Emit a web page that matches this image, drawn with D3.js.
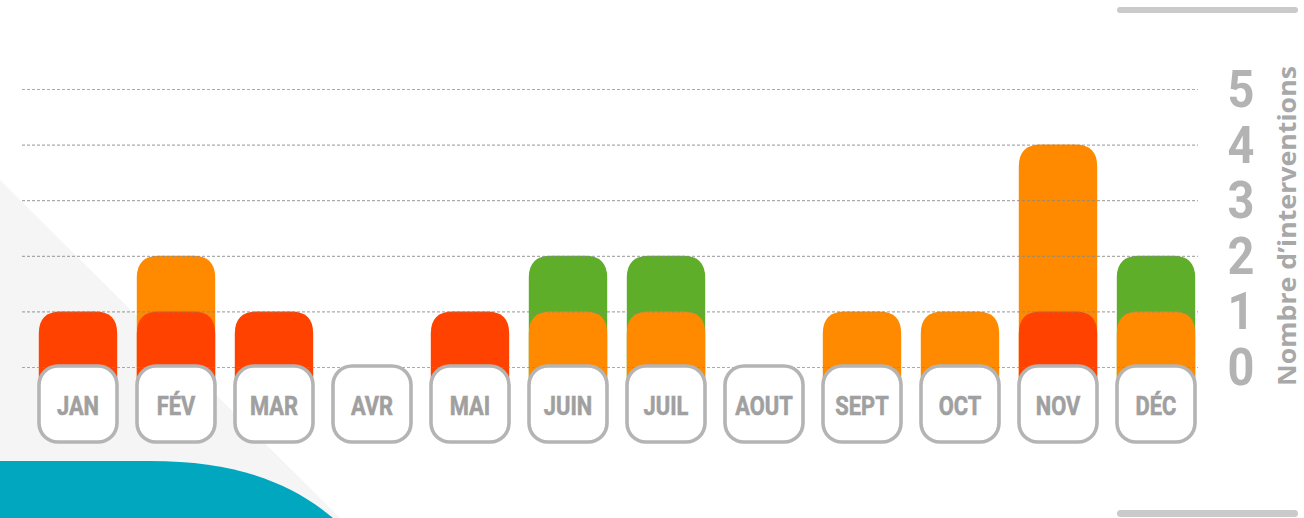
<!DOCTYPE html>
<html>
<head>
<meta charset="utf-8">
<script src="https://cdn.jsdelivr.net/npm/d3@7"></script>
<style>
  html, body { margin: 0; padding: 0; background: #fff; }
  svg { display: block; }
</style>
</head>
<body>
<div id="chart"></div>
<script>
// data
var months = ["JAN", "FÉV", "MAR", "AVR", "MAI", "JUIN", "JUIL", "AOUT", "SEPT", "OCT", "NOV", "DÉC"];
var rouge  = [1, 1, 1, 0, 1, 0, 0, 0, 0, 0, 1, 0];
var orange = [0, 1, 0, 0, 0, 1, 1, 0, 1, 1, 3, 1];
var vert   = [0, 0, 0, 0, 0, 1, 1, 0, 0, 0, 0, 1];
var yTicks = [0, 1, 2, 3, 4, 5];
var yTitle = "Nombre d’interventions";

var W = 1304, H = 518;
var colors = { rouge: "#ff4200", orange: "#ff8a00", vert: "#5fae2a" };

var svg = d3.select("#chart").append("svg")
  .attr("width", W)
  .attr("height", H);

// background shapes
svg.append("path")
  .attr("d", "M0,180 L340,518 L0,518 Z")
  .attr("fill", "#f5f5f5");

svg.append("path")
  .attr("d", "M0,518 L0,461 L150,461 C235,461 290,482 333,518 Z")
  .attr("fill", "#00a7bf");

svg.append("rect")
  .attr("x", 1117).attr("y", 7).attr("width", 181).attr("height", 6)
  .attr("rx", 3).attr("fill", "#cacaca");
svg.append("rect")
  .attr("x", 1117).attr("y", 510).attr("width", 181).attr("height", 7)
  .attr("rx", 3.5).attr("fill", "#cacaca");

// scales
var x = d3.scaleBand()
  .domain(months)
  .range([29, 1205])
  .paddingInner(0.2)
  .paddingOuter(0.1);

var y = d3.scaleLinear()
  .domain([0, 5])
  .range([367, 89]);

// stacked data
var table = months.map(function (m, i) {
  return { month: m, rouge: rouge[i], orange: orange[i], vert: vert[i] };
});
var stack = d3.stack().keys(["rouge", "orange", "vert"]);
var series = stack(table);

// rounded-top bar path
function barPath(x0, w, yTop, yBot, r) {
  return "M" + x0 + "," + yBot +
    " L" + x0 + "," + (yTop + r) +
    " Q" + x0 + "," + yTop + " " + (x0 + r) + "," + yTop +
    " L" + (x0 + w - r) + "," + yTop +
    " Q" + (x0 + w) + "," + yTop + " " + (x0 + w) + "," + (yTop + r) +
    " L" + (x0 + w) + "," + yBot + " Z";
}

// draw top series first so lower segments overlap with their rounded tops
series.slice().reverse().forEach(function (s) {
  svg.append("g").selectAll("path")
    .data(s.filter(function (d) { return d[1] > d[0]; }))
    .enter()
    .append("path")
    .attr("d", function (d) {
      return barPath(x(d.data.month), x.bandwidth(), y(d[1]), y(0) + 15, 22);
    })
    .attr("fill", colors[s.key]);
});

// gridlines (over the bars)
svg.append("g").selectAll("line")
  .data(yTicks)
  .enter()
  .append("line")
  .attr("x1", 22)
  .attr("x2", 1198)
  .attr("y1", function (d) { return y(d) + 0.5; })
  .attr("y2", function (d) { return y(d) + 0.5; })
  .attr("stroke", "#888")
  .attr("stroke-opacity", 0.7)
  .attr("stroke-width", 1.2)
  .attr("stroke-dasharray", "3,2");

// month boxes
var boxes = svg.append("g").selectAll("g")
  .data(months)
  .enter()
  .append("g")
  .attr("transform", function (d) {
    return "translate(" + (x(d) + x.bandwidth() / 2) + ",0)";
  });

boxes.append("rect")
  .attr("x", -39)
  .attr("y", 366)
  .attr("width", 78)
  .attr("height", 76)
  .attr("rx", 19)
  .attr("fill", "#fff")
  .attr("stroke", "#b4b4b4")
  .attr("stroke-width", 3.6);

boxes.append("text")
  .attr("transform", "translate(0,415) scale(0.84,1)")
  .attr("text-anchor", "middle")
  .attr("font-family", "Roboto, 'Open Sans', sans-serif")
  .attr("font-weight", "bold")
  .attr("font-size", 26)
  .attr("fill", "#a0a0a0")
  .attr("stroke", "#a0a0a0")
  .attr("stroke-width", 0.6)
  .text(function (d) { return d; });

// y tick numbers
svg.append("g").selectAll("text")
  .data(yTicks)
  .enter()
  .append("text")
  .attr("transform", function (d) {
    return "translate(1241," + (y(d) + 18) + ") scale(0.92,1)";
  })
  .attr("text-anchor", "middle")
  .attr("font-family", "Roboto, 'Open Sans', sans-serif")
  .attr("font-weight", "bold")
  .attr("font-size", 51)
  .attr("fill", "#b3b3b3")
  .text(function (d) { return d; });

// y title
svg.append("text")
  .attr("transform", "translate(1296,226) rotate(-90)")
  .attr("text-anchor", "middle")
  .attr("font-family", "'Open Sans', sans-serif")
  .attr("font-weight", "bold")
  .attr("font-size", 25)
  .attr("textLength", 320)
  .attr("lengthAdjust", "spacingAndGlyphs")
  .attr("fill", "#a8a8a8")
  .text(yTitle);
</script>
</body>
</html>
